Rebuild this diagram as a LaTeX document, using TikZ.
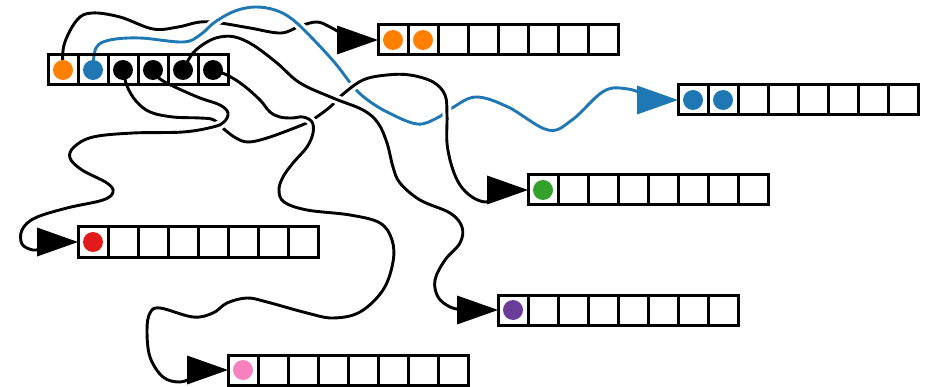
\documentclass[tikz,border=0pt]{standalone}
\usetikzlibrary{calc}
\pgfdeclarelayer{bg}
\pgfsetlayers{bg,main}
\definecolor{cOr}{HTML}{FF7F00}
\definecolor{cBl}{HTML}{1F78B4}
\definecolor{cGr}{HTML}{33A02C}
\definecolor{cRd}{HTML}{E31A1C}
\definecolor{cPu}{HTML}{6A3D9A}
\definecolor{cPk}{HTML}{F781BF}
\tikzset{
  cell/.style={draw, line width=3pt, minimum size=30pt, inner sep=0pt, outer sep=0pt},
  dot/.style={circle, minimum size=20pt, inner sep=0pt, fill=#1},
  wire/.style={line width=2.9pt, draw=#1, preaction={draw=white, line width=9pt}},
  wire/.default=black,
  head/.style={fill=#1},
  head/.default=black,
}
\begin{document}
\begin{tikzpicture}[x=1pt,y=-1pt]
\useasboundingbox (0,0) rectangle (925,387);
% arrays
\foreach \nm/\xx/\yy/\n in {S/48/70/6, O/378/40/8, B/678/100/8, G/528/190/8, R/78/242/8, P/498/310/8, K/228/370/8} {
  \foreach \i in {1,...,\n} {\node[cell] (\nm\i) at ({\xx+15+30*(\i-1)},\yy) {};}
}
% dots
\node[dot=cOr] (dS1) at (S1) {};
\node[dot=cBl] (dS2) at (S2) {};
\node[dot=black] (dS3) at (S3) {};
\node[dot=black] (dS4) at (S4) {};
\node[dot=black] (dS5) at (S5) {};
\node[dot=black] (dS6) at (S6) {};
\node[dot=cOr] (dO1) at (O1) {};
\node[dot=cOr] (dO2) at (O2) {};
\node[dot=cBl] (dB1) at (B1) {};
\node[dot=cBl] (dB2) at (B2) {};
\node[dot=cGr] (dG1) at (G1) {};
\node[dot=cRd] (dR1) at (R1) {};
\node[dot=cPu] (dP1) at (P1) {};
\node[dot=cPk] (dK1) at (K1) {};
% arrowheads
\fill[head] (O1.west) -- +(-41,-14.5) -- +(-41,14.5) -- cycle;
\fill[head=cBl] (B1.west) -- +(-41,-14.5) -- +(-41,14.5) -- cycle;
\fill[head] (G1.west) -- +(-41,-14.5) -- +(-41,14.5) -- cycle;
\fill[head] (R1.west) -- +(-41,-14.5) -- +(-41,14.5) -- cycle;
\fill[head] (P1.west) -- +(-41,-14.5) -- +(-41,14.5) -- cycle;
\fill[head] (K1.west) -- +(-41,-14.5) -- +(-41,14.5) -- cycle;
% wire ends
\coordinate (eO) at (342,34);
\coordinate (eB) at (645,95);
\coordinate (eG) at (494,199);
\coordinate (eR) at (44,248);
\coordinate (eP) at (463,310);
\coordinate (eK) at (194,377);
\begin{pgfonlayer}{bg}
% orange
\draw[wire] plot[smooth, tension=0.6] coordinates {(dS1) (64,45) (77,20) (92,13) (120,17) (153,29) (178,27) (200,22) (220,23) (250,28) (281,33) (300,26) (317,22) (330,27) (eO)};
% blue
\draw[wire=cBl] plot[smooth, tension=0.6] coordinates {(dS2) (96,48) (110,40) (140,38) (183,42) (200,35) (215,22) (235,11) (255,7) (275,10) (292,19) (312,38) (335,63) (352,85) (365,98) (387,112) (417,124) (437,118) (452,108) (476,97) (508,107) (548,130) (572,120) (604,91) (628,89) (eB)};
% green
\draw[wire] plot[smooth, tension=0.6] coordinates {(dS3) (127,86) (136,101) (150,112) (173,117) (200,118) (214,120) (225,130) (236,138) (248,142) (267,138) (297,127) (312,120) (330,107) (342,95) (363,80) (387,75) (410,75) (433,82) (445,95) (447,115) (447,143) (452,167) (460,185) (472,197) (485,202) (eG)};
% red
\draw[wire] plot[smooth, tension=0.6] coordinates {(dS4) (160,79) (177,88) (200,98) (220,105) (228,113) (224,122) (213,127) (183,132) (133,133) (93,137) (74,147) (70,158) (82,170) (107,183) (113,192) (103,200) (67,208) (35,218) (22,230) (22,244) (33,250) (eR)};
% purple
\draw[wire] plot[smooth, tension=0.6] coordinates {(dS5) (193,53) (207,42) (220,37) (235,37) (253,45) (277,63) (300,83) (333,98) (363,110) (378,123) (387,143) (393,167) (400,183) (420,200) (450,213) (462,227) (460,243) (445,260) (435,280) (438,297) (450,307) (eP)};
% pink
\draw[wire] plot[smooth, tension=0.6] coordinates {(dS6) (227,75) (243,85) (260,100) (270,112) (280,117) (292,118) (303,117) (312,122) (313,133) (307,147) (293,163) (283,177) (279,190) (284,202) (307,210) (350,215) (380,223) (392,240) (393,262) (383,290) (360,312) (333,318) (307,313) (267,302) (247,298) (227,303) (213,313) (193,317) (160,308) (150,313) (147,330) (150,357) (163,377) (180,382) (eK)};
\end{pgfonlayer}
\end{tikzpicture}
\end{document}
